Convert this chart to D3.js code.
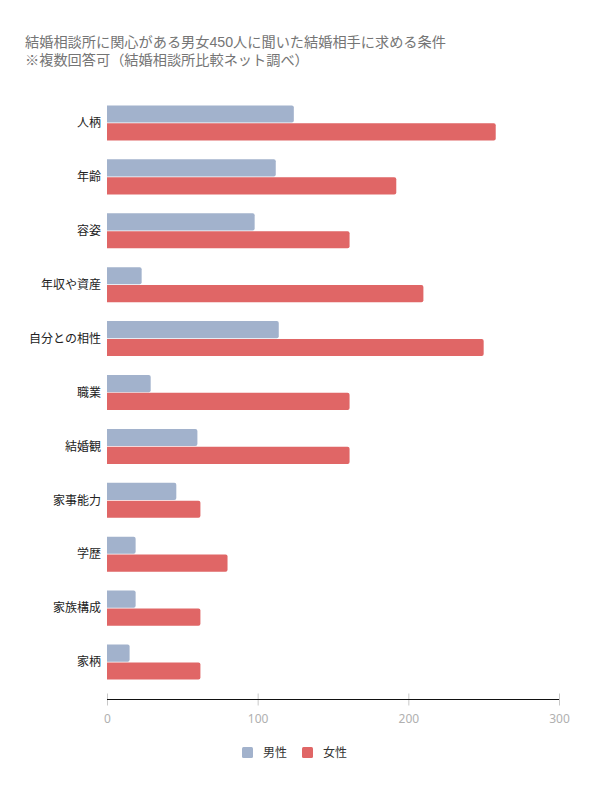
<!DOCTYPE html>
<html>
<head>
<meta charset="utf-8">
<script src="https://cdn.jsdelivr.net/npm/d3@7"></script>
<style>
  body { margin: 0; background: #fff; }
  text { font-family: "Noto Sans CJK JP", "Noto Sans", sans-serif; }
  text.title { font-family: "Liberation Sans", "Noto Sans CJK JP", sans-serif; }
</style>
</head>
<body>
<svg id="chart"></svg>
<script>
// data
let categories = ['人柄', '年齢', '容姿', '年収や資産', '自分との相性', '職業', '結婚観', '家事能力', '学歴', '家族構成', '家柄']
let male = [124, 112, 98, 23, 114, 29, 60, 46, 19, 19, 15]
let female = [258, 192, 161, 210, 250, 161, 161, 62, 80, 62, 62]
let series = ['男性', '女性']
let ticks = [0, 100, 200, 300]
let titleLines = ['結婚相談所に関心がある男女450人に聞いた結婚相手に求める条件', '※複数回答可（結婚相談所比較ネット調べ）']

let colors = {'男性': '#a2b2cc', '女性': '#e06666'}

let W = 589, H = 789
let m = {top: 96, left: 107, right: 30, bottom: 100}

let svg = d3.select('#chart').attr('width', W).attr('height', H)

// title
svg.selectAll('.title')
    .data(titleLines)
  .enter().append('text')
    .attr('class', 'title')
    .attr('x', 25)
    .attr('y', (d, i) => 47 + i * 18)
    .attr('font-size', 14.2)
    .attr('fill', '#757575')
    .text(d => d)

let xScale = d3.scaleLinear().domain([0, 300]).range([m.left, 559])
let yScale = d3.scaleBand().domain(categories).range([m.top, 689])
    .paddingInner(0.35).paddingOuter(0.175)
let subScale = d3.scaleBand().domain(series).range([0, yScale.bandwidth()]).paddingInner(0.04)

let rows = categories.map((c, i) => ({cat: c, values: [
    {s: '男性', v: male[i]},
    {s: '女性', v: female[i]}
]}))

// bar with rounded right end
function barPath(x0, y0, x1, h) {
    let r = Math.min(2, (x1 - x0) / 2)
    return `M${x0},${y0}H${x1 - r}Q${x1},${y0} ${x1},${y0 + r}V${y0 + h - r}Q${x1},${y0 + h} ${x1 - r},${y0 + h}H${x0}Z`
}

let groups = svg.selectAll('.grp')
    .data(rows)
  .enter().append('g')
    .attr('class', 'grp')
    .attr('transform', d => `translate(0, ${yScale(d.cat)})`)

groups.selectAll('path')
    .data(d => d.values)
  .enter().append('path')
    .attr('d', d => barPath(xScale(0), subScale(d.s), xScale(d.v), subScale.bandwidth()))
    .attr('fill', d => colors[d.s])

// category labels
svg.selectAll('.cat')
    .data(categories)
  .enter().append('text')
    .attr('class', 'cat')
    .attr('x', 101)
    .attr('y', d => yScale(d) + yScale.bandwidth() / 2)
    .attr('dy', '0.35em')
    .attr('text-anchor', 'end')
    .attr('font-size', 12)
    .attr('fill', '#222')
    .text(d => d)

// x axis
let axisY = 699.5
let xAxis = d3.axisBottom(xScale).tickValues(ticks).tickSize(6).tickPadding(9)
let ax = svg.append('g')
    .attr('transform', `translate(0, ${axisY})`)
    .call(xAxis)
ax.select('.domain').remove()
ax.selectAll('.tick line').attr('stroke', '#c8c8c8').attr('y1', -6)
ax.selectAll('.tick text').attr('fill', '#b0b0b0').attr('font-size', 12)
    .style('font-family', '"Noto Sans", sans-serif')
ax.append('line')
    .attr('x1', xScale(0)).attr('x2', xScale(300))
    .attr('stroke', '#111').attr('stroke-width', 1)

// legend
let legendX = [242, 302]
let lg = svg.selectAll('.leg')
    .data(series)
  .enter().append('g')
    .attr('class', 'leg')
    .attr('transform', (d, i) => `translate(${legendX[i]}, 747)`)
lg.append('rect')
    .attr('width', 11).attr('height', 11).attr('rx', 1.5)
    .attr('fill', d => colors[d])
lg.append('text')
    .attr('x', 21).attr('y', 5.5).attr('dy', '0.35em')
    .attr('font-size', 12)
    .attr('fill', '#333')
    .text(d => d)
</script>
</body>
</html>
